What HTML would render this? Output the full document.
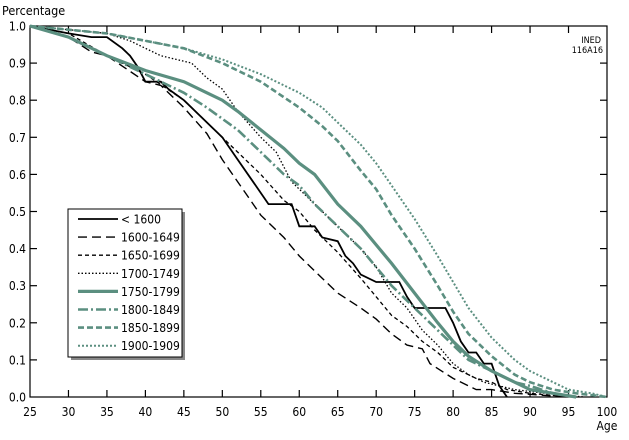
<!DOCTYPE html>
<html><head><meta charset="utf-8"><style>
body{margin:0;background:#fff;}
svg{display:block;font-family:"DejaVu Sans Condensed","Liberation Sans",sans-serif;}
</style></head><body>
<svg id="s" width="629" height="440" viewBox="0 0 629 440" xmlns="http://www.w3.org/2000/svg">
<rect x="0" y="0" width="629" height="440" fill="#fff"/>
<text x="2" y="15" font-size="12.5">Percentage</text>
<text x="601" y="43" font-size="9" text-anchor="end">INED</text>
<text x="603" y="53" font-size="9" text-anchor="end">116A16</text>
<text x="607" y="430" font-size="12" text-anchor="middle">Age</text>
<g id="axes" stroke="#000" stroke-width="1.2" fill="none"></g>
<g id="labels" font-size="12" fill="#000"></g>
<g id="curves" fill="none"></g>
<rect x="71" y="212" width="114" height="148" fill="#888"/>
<rect x="68" y="209" width="114" height="148" fill="#fff" stroke="#000" stroke-width="1"/>
<g id="legend" font-size="12"></g>
</svg>
<script>
var X=a=>30+(a-25)*7.693, Y=v=>397-v*371;
var ns="http://www.w3.org/2000/svg";
function el(p,t,at,txt){var e=document.createElementNS(ns,t);for(var k in at)e.setAttribute(k,at[k]);if(txt!==undefined)e.textContent=txt;document.getElementById(p).appendChild(e);return e;}
el("axes","rect",{x:30,y:26,width:577,height:371});
for(var a=25;a<=100;a+=5){var x=X(a);
 if(a>25&&a<100){el("axes","line",{x1:x,y1:397,x2:x,y2:390});el("axes","line",{x1:x,y1:26,x2:x,y2:33});}
 el("labels","text",{x:x,y:416,"text-anchor":"middle"},a);}
for(var i=0;i<=10;i++){var v=i/10,y=Y(v);
 if(i>0&&i<10){el("axes","line",{x1:30,y1:y,x2:37,y2:y});el("axes","line",{x1:607,y1:y,x2:600,y2:y});}
 el("labels","text",{x:26,y:y+4.5,"text-anchor":"end"},v.toFixed(1));}
var G="#5b8f80";
var S=[
["< 1600","#000",1.8,"",[[25,1],[30,.98],[33,.97],[35,.97],[37,.94],[38,.92],[39,.89],[40,.85],[42,.85],[43,.83],[45,.8],[47,.76],[49,.72],[50,.7],[52,.64],[54,.58],[56,.52],[57,.52],[59,.52],[60,.46],[62,.46],[63,.43],[65,.42],[66,.38],[67,.36],[68,.33],[70,.31],[73,.31],[74,.27],[75,.24],[79,.24],[80,.2],[81,.15],[82,.12],[83,.12],[84,.09],[85,.09],[86,.03],[87,0]]],
["1600-1649","#000",1.4,"9,5",[[25,1],[30,.97],[33,.93],[35,.92],[40,.85],[42,.84],[45,.78],[48,.71],[50,.64],[53,.55],[55,.49],[58,.43],[60,.38],[62,.34],[65,.28],[68,.24],[70,.21],[72,.17],[74,.14],[76,.13],[77,.09],[80,.05],[83,.02],[85,.02],[88,.01],[95,0]]],
["1650-1699","#000",1.3,"4,3",[[25,1],[30,.98],[35,.92],[40,.87],[45,.8],[48,.74],[50,.7],[55,.6],[58,.53],[60,.5],[62,.45],[65,.39],[68,.32],[70,.27],[72,.22],[74,.19],[76,.15],[78,.12],[80,.08],[83,.05],[85,.04],[87,.02],[90,.01],[95,0]]],
["1700-1749","#000",1.3,"1.5,2",[[25,1],[30,.99],[35,.98],[38,.96],[40,.94],[42,.92],[44,.91],[46,.9],[48,.86],[50,.83],[52,.77],[55,.7],[57,.66],[59,.58],[60,.56],[62,.52],[64,.48],[66,.44],[68,.4],[70,.35],[72,.28],[74,.24],[76,.18],[78,.14],[80,.09],[82,.06],[84,.04],[86,.03],[88,.02],[92,.01],[97,0]]],
["1750-1799",G,3.2,"",[[25,1],[30,.97],[35,.92],[40,.88],[45,.85],[48,.82],[50,.8],[52,.77],[55,.72],[58,.67],[60,.63],[62,.6],[65,.52],[68,.46],[70,.41],[72,.36],[75,.28],[78,.2],[80,.15],[82,.11],[85,.07],[88,.04],[90,.02],[93,.01],[96,0]]],
["1800-1849",G,2.6,"10,3,2,3",[[25,1],[30,.97],[35,.92],[40,.87],[45,.82],[48,.78],[50,.75],[52,.72],[55,.66],[58,.6],[60,.57],[62,.52],[65,.46],[68,.4],[70,.35],[72,.3],[75,.24],[78,.18],[80,.14],[82,.1],[85,.07],[88,.04],[90,.03],[93,.01],[96,0]]],
["1850-1899",G,2.6,"6,3",[[25,1],[30,.99],[35,.98],[40,.96],[45,.94],[50,.9],[55,.85],[60,.78],[63,.73],[65,.69],[68,.61],[70,.56],[72,.49],[75,.4],[78,.3],[80,.23],[82,.17],[85,.11],[88,.06],[90,.04],[93,.02],[96,.01],[100,0]]],
["1900-1909",G,2,"2,2",[[25,1],[30,.99],[35,.98],[40,.96],[45,.94],[50,.91],[55,.87],[60,.82],[63,.78],[65,.74],[68,.68],[70,.63],[72,.57],[75,.48],[78,.38],[80,.31],[82,.24],[85,.16],[88,.1],[90,.07],[93,.04],[95,.02],[98,.01],[100,0]]]
];
S.forEach(function(s,i){
 var d=s[4].map((p,j)=>(j?"L":"M")+X(p[0]).toFixed(1)+","+Y(p[1]).toFixed(1)).join("");
 var at={d:d,stroke:s[1],"stroke-width":s[2]};if(s[3])at["stroke-dasharray"]=s[3];
 el("curves","path",at);
 var y=219+i*18.1;
 var la={x1:78,y1:y,x2:118,y2:y,stroke:s[1],"stroke-width":s[2]};if(s[3])la["stroke-dasharray"]=s[3];
 el("legend","line",la);
 el("legend","text",{x:121,y:y+4.5},s[0]);
});
</script>
</body></html>
